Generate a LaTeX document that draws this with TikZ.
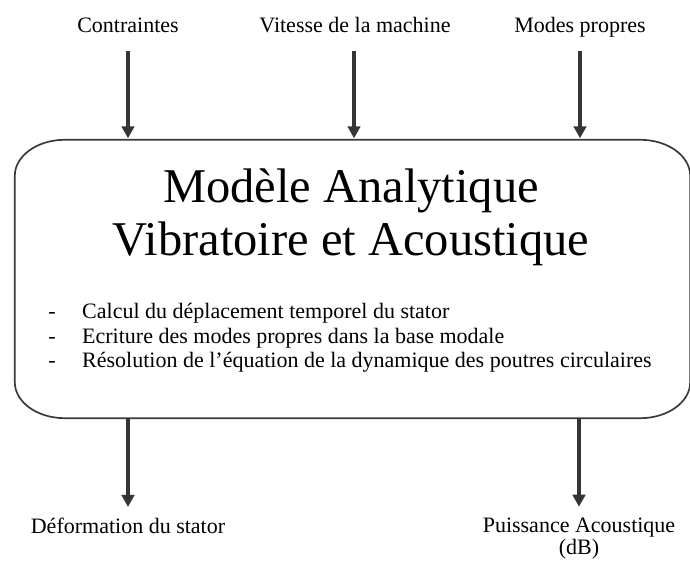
\documentclass[tikz,border=0pt]{standalone}
\usepackage{fontspec}
\setmainfont{Liberation Serif}
\usetikzlibrary{arrows.meta}
\definecolor{arrowgrey}{HTML}{353535}
\definecolor{boxgrey}{HTML}{3A3A3A}
\tikzset{
  lbl/.style={inner sep=0pt, font=\fontsize{22}{22.5}\selectfont},
  ttl/.style={inner sep=0pt, anchor=base, font=\fontsize{48.5}{53}\selectfont},
  itm/.style={inner sep=0pt, anchor=base west, font=\fontsize{22}{24}\selectfont},
  dsh/.style={inner sep=0pt, anchor=base, font=\fontsize{22}{24}\selectfont},
  arr/.style={draw=arrowgrey, line width=3.8pt, -{Triangle[width=12.5pt,length=12pt]}},
  outline/.style={draw=boxgrey, line width=1.7pt}
}
\begin{document}
\begin{tikzpicture}[x=1pt,y=1pt]
\useasboundingbox (0,0) rectangle (690,561);
% main box (invisible node, outline drawn with elliptic corners)
\node[minimum width=675pt, minimum height=278pt, inner sep=0pt] (box) at (352.5,282) {};
\draw[outline]
  ([xshift=50pt]box.north west) -- ([xshift=-50pt]box.north east)
  arc[start angle=90, end angle=0, x radius=50pt, y radius=36pt]
  -- ([yshift=36pt]box.south east)
  arc[start angle=0, end angle=-90, x radius=50pt, y radius=36pt]
  -- ([xshift=50pt]box.south west)
  arc[start angle=270, end angle=180, x radius=50pt, y radius=36pt]
  -- ([yshift=-36pt]box.north west)
  arc[start angle=180, end angle=90, x radius=50pt, y radius=36pt]
  -- cycle;
% title
\node[ttl] (t1) at (351,358) {Modèle Analytique};
\node[ttl] (t2) at (351,305) {Vibratoire et Acoustique};
% items
\node[dsh] (d1) at (52,242) {-};
\node[itm] (i1) at (82,242) {Calcul du déplacement temporel du stator};
\node[dsh] (d2) at (52,217.5) {-};
\node[itm] (i2) at (82,217.5) {Ecriture des modes propres dans la base modale};
\node[dsh] (d3) at (52,193) {-};
\node[itm] (i3) at (82,193) {Résolution de l’équation de la dynamique des poutres circulaires};
% inputs
\node[lbl, anchor=base, text depth=0pt] (in1) at (128,528) {Contraintes};
\node[lbl, anchor=base, text depth=0pt] (in2) at (355,528) {Vitesse de la machine};
\node[lbl, anchor=base, text depth=0pt] (in3) at (580,528) {Modes propres};
\draw[arr, shorten <=18pt, shorten >=1.5pt] (in1.south -| 128,0) -- (128,0 |- box.north);
\draw[arr, shorten <=18pt, shorten >=1.5pt] (in2.south -| 354,0) -- (354,0 |- box.north);
\draw[arr, shorten <=18pt, shorten >=1.5pt] (in3.south -| 580,0) -- (580,0 |- box.north);
% outputs
\node[lbl, anchor=north, text height=15pt] (out1) at (128,43) {Déformation du stator};
\node[lbl, anchor=base, align=center] (out2) at (579,6) {Puissance Acoustique\\(dB)};
\draw[arr, shorten >=11pt] (128,0 |- box.south) -- (out1.north);
\draw[arr, shorten >=11pt] (579,0 |- box.south) -- (579,0 |- out2.north);
\end{tikzpicture}
\end{document}
